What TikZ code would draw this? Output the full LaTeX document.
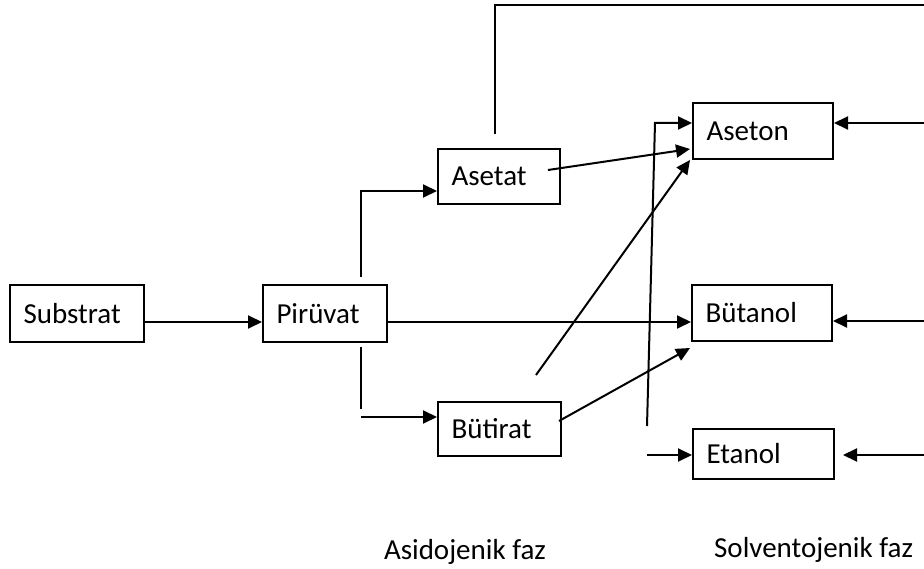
\documentclass[tikz,border=0pt]{standalone}
\usepackage{fontspec}
\setmainfont{Carlito}
\usetikzlibrary{arrows.meta}
\begin{document}
\begin{tikzpicture}[x=1pt,y=-1pt,
  line width=2pt,
  box/.style={draw, rectangle, anchor=north west, inner xsep=13.5pt, inner ysep=0pt, align=left, font=\fontsize{29}{34}\selectfont},
  arr/.style={-{Triangle[length=14pt,width=13pt]}},
  lbl/.style={font=\fontsize{29}{34}\selectfont, anchor=base west, inner sep=0pt}]
\useasboundingbox (0,0) rectangle (924,569);
% boxes
\node[box, minimum width=134pt, minimum height=57pt, text width=107pt] (sub) at (9,284) {Substrat};
\node[box, minimum width=124pt, minimum height=57pt, text width=97pt] (pir) at (262,284) {Pirüvat};
\node[box, minimum width=122pt, minimum height=55pt, text width=95pt] (aset) at (437,148) {Asetat};
\node[box, minimum width=123pt, minimum height=54pt, text width=96pt] (buti) at (437,401) {Bütirat};
\node[box, minimum width=140pt, minimum height=56pt, text width=113pt] (aseton) at (692,102) {Aseton};
\node[box, minimum width=140pt, minimum height=56pt, text width=113pt] (butan) at (691,284) {Bütanol};
\node[box, minimum width=141pt, minimum height=50pt, text width=114pt] (etan) at (692,428) {Etanol};
% labels
\node[lbl] (asid) at (383,559) {Asidojenik faz};
\node[lbl, anchor=base east] (solv) at (914,557) {Solventojenik faz};
% level coordinates
\coordinate (ymain) at (0,322);
\coordinate (yup) at (0,191);
\coordinate (ydn) at (0,417);
\coordinate (ytop) at (0,123);
\coordinate (yeta) at (0,455);
% main flow
\draw[arr] (sub.east|-ymain) -- (pir.west|-ymain);
\draw[arr] (pir.east|-ymain) -- (butan.west|-ymain);
% branches from Piruvat
\coordinate (up0) at (361,277);
\draw[arr] (up0) |- (aset.west|-yup);
\coordinate (dn0) at (361,347);
\coordinate (dn1) at (361,409);
\draw (dn0) -- (dn1);
\coordinate (dn2) at (361,417);
\draw[arr] (dn2) -- (buti.west|-ydn);
% Asetat top loop
\coordinate (lp0) at (495,134);
\coordinate (lp1) at (924,5);
\draw (lp0) |- (lp1);
% Asetat -> Aseton
\coordinate (a0) at (548,170);
\coordinate (a1) at (690,149);
\draw[arr] (a0) -- (a1);
% Butirat -> Aseton
\coordinate (b0) at (536,375);
\coordinate (b1) at (690,160);
\draw[arr] (b0) -- (b1);
% Butirat -> Butanol
\coordinate (c0) at (559,421);
\coordinate (c1) at (690,348);
\draw[arr] (c0) -- (c1);
% crossing line
\coordinate (x0) at (647,426);
\coordinate (x1) at (655,123);
\draw[arr] (x0) -- (x1) -- (aseton.west|-ytop);
% into Etanol
\coordinate (e0) at (647,455);
\draw[arr] (e0) -- (etan.west|-yeta);
% from right
\coordinate (r1) at (924,123);
\coordinate (r2) at (924,321);
\coordinate (r3) at (924,455);
\coordinate (r3e) at (843,455);
\draw[arr] (r1) -- (aseton.east|-r1);
\draw[arr] (r2) -- (butan.east|-r2);
\draw[arr] (r3) -- (r3e);
\end{tikzpicture}
\end{document}
